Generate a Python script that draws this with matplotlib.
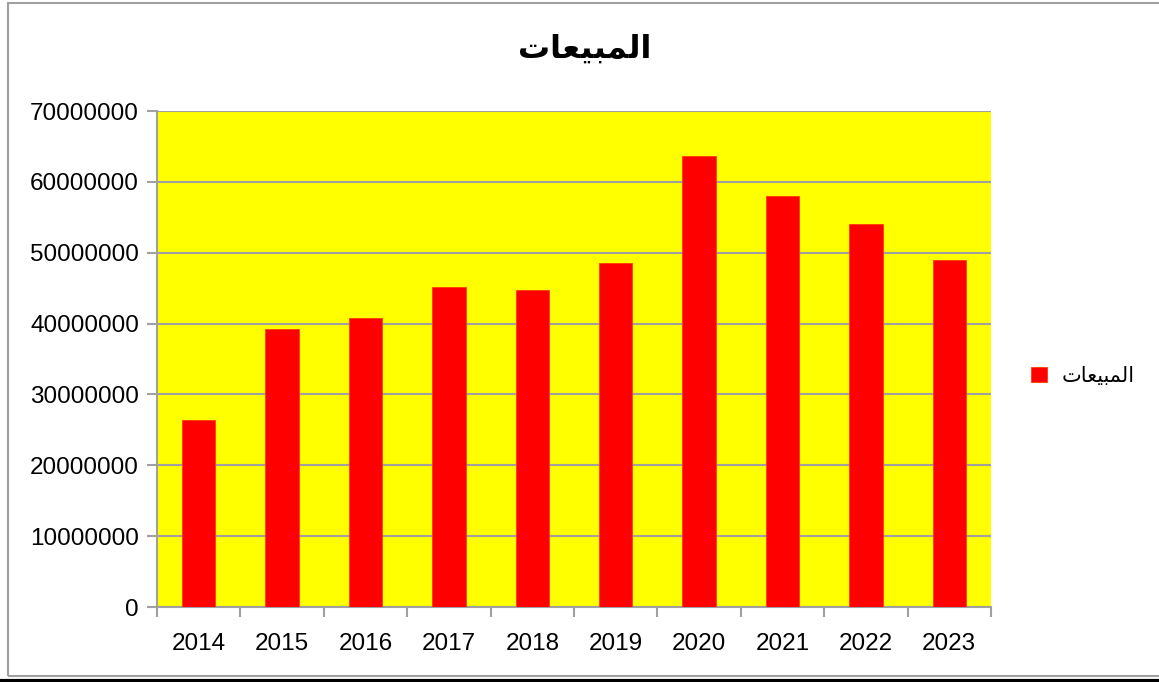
import numpy as np
import matplotlib
matplotlib.use('Agg')
import matplotlib.pyplot as plt
from matplotlib.patches import Rectangle
from matplotlib.lines import Line2D

YEARS = ['2014', '2015', '2016', '2017', '2018', '2019', '2020', '2021', '2022', '2023']
SALES = [26400000, 39200000, 40800000, 45100000, 44800000,
         48500000, 63700000, 58000000, 54100000, 49000000]
Y_TICKS = [0, 10000000, 20000000, 30000000, 40000000, 50000000, 60000000, 70000000]
TITLE = 'المبيعات'
SERIES = 'المبيعات'

# formes contextuelles: (isolée, finale, initiale, médiane)
FORMS = {
    'ا': ('\uFE8D', '\uFE8E', None, None),
    'ل': ('\uFEDD', '\uFEDE', '\uFEDF', '\uFEE0'),
    'م': ('\uFEE1', '\uFEE2', '\uFEE3', '\uFEE4'),
    'ب': ('\uFE8F', '\uFE90', '\uFE91', '\uFE92'),
    'ي': ('\uFEF1', '\uFEF2', '\uFEF3', '\uFEF4'),
    'ع': ('\uFEC9', '\uFECA', '\uFECB', '\uFECC'),
    'ت': ('\uFE95', '\uFE96', '\uFE97', '\uFE98'),
}

def shape(text: str) -> str:
    '''Mise en forme arabe minimale (matplotlib ne fait pas le shaping)'''
    out = []
    for i, ch in enumerate(text):
        f = FORMS.get(ch)
        if f is None:
            out.append(ch)
            continue
        prev = text[i - 1] if i > 0 else None
        nxt = text[i + 1] if i + 1 < len(text) else None
        joins_prev = prev in FORMS and FORMS[prev][2] is not None
        joins_next = nxt in FORMS and f[2] is not None
        if joins_prev and joins_next:
            out.append(f[3])
        elif joins_prev:
            out.append(f[1])
        elif joins_next:
            out.append(f[2])
        else:
            out.append(f[0])
    return ''.join(reversed(out))

plt.rcParams['font.family'] = ['Liberation Sans', 'DejaVu Sans']

W, H = 1159, 682
fig = plt.figure(figsize=(W / 100, H / 100), dpi=100)
fig.patch.set_facecolor('white')

# cadre du graphique
fig.add_artist(Rectangle((8 / W, 1 - 676 / H), 1.2, (676 - 3) / H, transform=fig.transFigure,
                         fill=False, edgecolor='#a0a0a0', linewidth=1.5))
fig.add_artist(Line2D([0, 1], [1 - 680.5 / H, 1 - 680.5 / H], transform=fig.transFigure,
                      color='black', linewidth=3))

ax = fig.add_axes([157 / W, 1 - 607 / H, (991 - 157) / W, (607 - 111) / H])
ax.set_facecolor('#ffff00')
x = np.arange(len(YEARS))
ax.bar(x, SALES, width=0.4, color='#ff0000', edgecolor='#ff3c00', linewidth=0.6,
       zorder=3, label=shape(SERIES))

ax.set_xlim(-0.5, len(YEARS) - 0.5)
ax.set_ylim(0, 70000000)
ax.set_yticks(Y_TICKS)
ax.set_yticklabels([str(v) for v in Y_TICKS], fontsize=17.5)
ax.set_xticks(x)
ax.set_xticklabels(YEARS, fontsize=17.5)
ax.tick_params(axis='x', length=0, pad=19)
ax.set_xticks(np.arange(len(YEARS) + 1) - 0.5, minor=True)
ax.tick_params(axis='x', which='minor', length=7, color='#a0a0a0', width=1.5)
ax.tick_params(axis='y', length=7, color='#a0a0a0', width=1.5, pad=6)

ax.grid(axis='y', color='#a0a0a0', linewidth=1.5, zorder=1)
for s in ['top', 'right']:
    ax.spines[s].set_visible(False)
for s in ['left', 'bottom']:
    ax.spines[s].set_color('#a0a0a0')
    ax.spines[s].set_linewidth(1.5)

fig.text(585 / W, 1 - 50 / H, shape(TITLE), ha='center', va='center',
         fontsize=23, fontweight='bold')

ax.legend(loc='center left', bbox_to_anchor=(1.026, 0.465), frameon=False,
          fontsize=15, handlelength=0.75, handleheight=0.75, handletextpad=0.7)

fig.savefig('out.png', dpi=100)
